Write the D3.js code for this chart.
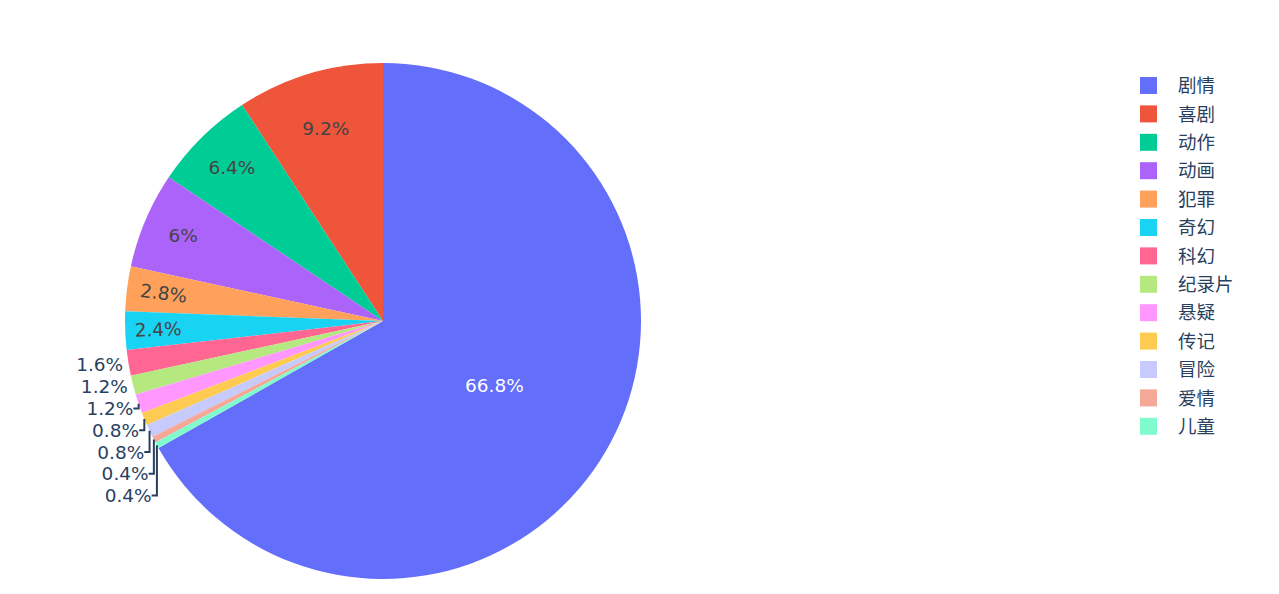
<!DOCTYPE html>
<html><head><meta charset="utf-8">
<script src="https://cdn.jsdelivr.net/npm/d3@7"></script>
<style>body{margin:0;background:#fff}</style></head>
<body><svg id="chart" width="1279" height="594"></svg>
<script>
const categories = ["剧情","喜剧","动作","动画","犯罪","奇幻","科幻","纪录片","悬疑","传记","冒险","爱情","儿童"];
const counts = [167,23,16,15,7,6,4,3,3,2,2,1,1];
const baseColors = ['#636efa','#EF553B','#00cc96','#ab63fa','#FFA15A','#19d3f3','#FF6692','#B6E880','#FF97FF','#FECB52'];
const extraColors = ['#c6cafd','#f5a898','#7ffbcd'];
const colors = baseColors.concat(extraColors);

const W = 1279, H = 594, cx = 383, cy = 321, R = 258;
const NUMFONT = '"DejaVu Sans", Verdana, sans-serif';
const CJKFONT = '"Noto Sans CJK SC", "DejaVu Sans", sans-serif';
const FS = 18.5, textPad = 3, fontColor = '#2a3f5f';

const svg = d3.select('#chart');
svg.append('rect').attr('width', W).attr('height', H).attr('fill', '#fff');

const total = d3.sum(counts);
const a0 = 2 * Math.PI * counts[0] / total;
const pie = d3.pie().sort(null).value(d => d).startAngle(a0).endAngle(a0 - 2 * Math.PI);
const arcs = pie(counts);
const arc = d3.arc().innerRadius(0).outerRadius(R);

const g = svg.append('g').attr('transform', `translate(${cx},${cy})`);
g.selectAll('path.slice').data(arcs).join('path').attr('class', 'slice')
  .attr('d', arc).attr('fill', (d, i) => colors[i]);

function fmtPct(p) {
  let s = (p * 100).toPrecision(3);
  if (s.indexOf('.') >= 0) s = s.replace(/0+$/, '').replace(/\.$/, '');
  return s + '%';
}
function isLight(c) { const r = d3.rgb(c); return (r.r * 299 + r.g * 587 + r.b * 114) / 1000 >= 128; }
function calcMaxHalfSize(a, half, r, ring) {
  const q = a + 1 / (2 * Math.tan(half));
  return r * Math.min(1 / (Math.sqrt(q * q + 0.5) + q), ring / (Math.sqrt(a * a + ring / 2) + a));
}
function calcRCenter(a, b) { return Math.cos(b) - a * b; }
function normRot(deg) { let x = ((deg % 180) + 180) % 180; if (x > 90) x -= 180; return x; }

const labelLayer = svg.append('g');
const outside = [];

arcs.forEach((d, i) => {
  const v = counts[i];
  let mid = (d.startAngle + d.endAngle) / 2;
  mid = ((mid % (2 * Math.PI)) + 2 * Math.PI) % (2 * Math.PI);
  const half = Math.PI * Math.min(v / total, 0.5);
  const px = R * Math.sin(mid), py = -R * Math.cos(mid);
  const txt = fmtPct(v / total);

  const t = labelLayer.append('text').text(txt)
    .attr('font-family', NUMFONT).attr('font-size', FS).attr('text-anchor', 'middle');
  const bb = t.node().getBBox();
  const w = bb.width, h = bb.height, yc = bb.y + bb.height / 2;

  const f = Math.min(1 / (1 + 1 / Math.sin(half)), 0.5);
  const diam = Math.sqrt(w * w + h * h);
  let best = { scale: f * R * 2 / diam, rCenter: 1 - f, rotate: 0 };
  if (best.scale < 1) {
    const rr = Math.max(0, R - 2 * textPad);
    const midDeg = mid * 180 / Math.PI;
    const aR = w / h, sR = calcMaxHalfSize(aR, half, rr, 1);
    const radT = { scale: sR * 2 / h, rCenter: calcRCenter(aR, sR / rr), rotate: normRot(midDeg - 90) };
    const aT = h / w, sT = calcMaxHalfSize(aT, half, rr, 1);
    const tanT = { scale: sT * 2 / w, rCenter: calcRCenter(aT, sT / rr), rotate: normRot(midDeg) };
    [radT, tanT].forEach(tr => { if (tr.scale > best.scale) best = tr; });
  }

  if (best.scale >= 1) {
    const fill = isLight(colors[i]) ? '#444' : '#fff';
    t.attr('fill', fill)
     .attr('transform', `translate(${cx + px * best.rCenter},${cy + py * best.rCenter}) rotate(${best.rotate}) translate(0,${-yc})`);
  } else {
    t.attr('fill', fontColor);
    let dx = w / 2 * (px < 0 ? -1 : 1), dy = h / 2 * (py < 0 ? -1 : 1);
    const offX = dx + Math.abs(dy) * (dx > 0 ? 1 : -1) / 2;
    const offY = dy / (1 + px * px / (py * py));
    outside.push({ t, px, py, w, h, yc, x: cx + px + offX, y0: cy + py + offY + 1, y: cy + py + offY + 1 });
  }
});

const groups = d3.groups(outside, o => (o.px < 0 ? 'L' : 'R') + (o.py > 0 ? 'B' : 'T'));
groups.forEach(([key, arr]) => {
  if (key[1] === 'B') {
    arr.sort((a, b) => a.y0 - b.y0);
    for (let k = 1; k < arr.length; k++) arr[k].y = Math.max(arr[k].y0, arr[k - 1].y + arr[k - 1].h * 1.035);
  } else {
    arr.sort((a, b) => b.y0 - a.y0);
    for (let k = 1; k < arr.length; k++) arr[k].y = Math.min(arr[k].y0, arr[k - 1].y - arr[k - 1].h * 1.035);
  }
});
outside.forEach(o => {
  o.t.attr('transform', `translate(${o.x},${o.y - o.yc})`);
  if (Math.abs(o.y - o.y0) > 0.01) {
    const sx = cx + o.px, sy = cy + o.py;
    const hn = o.h * (o.px < 0 ? -1 : 1) / 4;
    labelLayer.append('path')
      .attr('d', `M${sx},${sy}V${o.y}h${hn}`)
      .attr('fill', 'none').attr('stroke', fontColor).attr('stroke-width', 2);
  }
});

const legendY0 = 85.5, legendStep = 28.4;
const leg = svg.append('g');
categories.forEach((c, i) => {
  const y = legendY0 + i * legendStep;
  leg.append('rect').attr('x', 1140).attr('y', y - 8.5).attr('width', 17).attr('height', 17)
    .attr('fill', colors[i]);
  leg.append('text').attr('x', 1178).attr('y', y).attr('dy', '0.36em')
    .attr('font-family', CJKFONT).attr('font-size', FS).attr('fill', fontColor).text(c);
});
</script>
</body></html>
